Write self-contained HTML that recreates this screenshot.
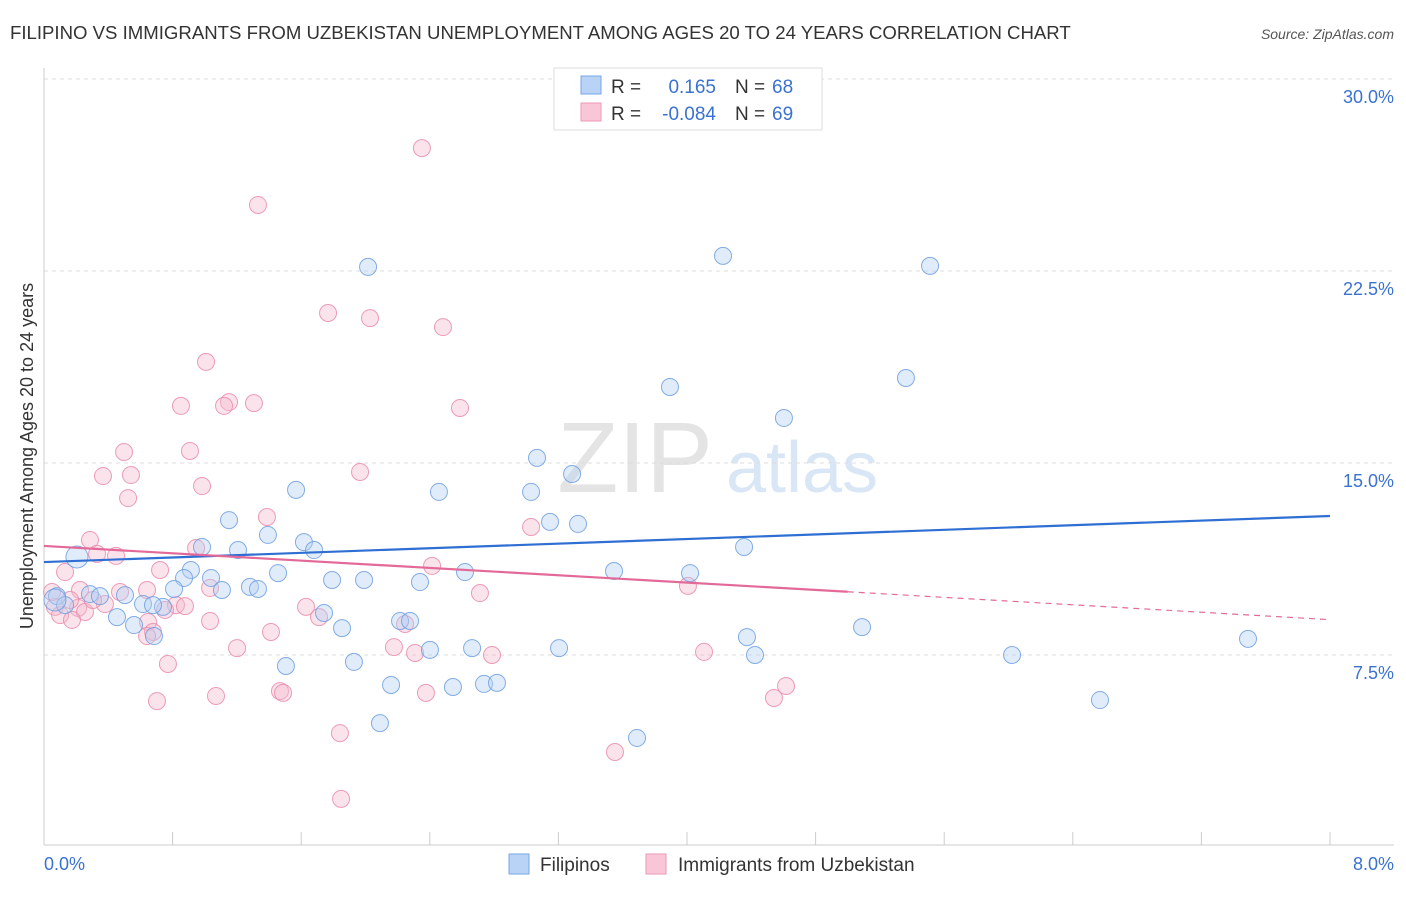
<!DOCTYPE html>
<html><head><meta charset="utf-8"><style>
body{margin:0;background:#fff;font-family:"Liberation Sans",sans-serif;}
svg text{font-family:"Liberation Sans",sans-serif;}
</style></head><body>
<svg id="c" width="1406" height="892" xmlns="http://www.w3.org/2000/svg">
<text x="10" y="39" font-size="18.6" fill="#333">FILIPINO VS IMMIGRANTS FROM UZBEKISTAN UNEMPLOYMENT AMONG AGES 20 TO 24 YEARS CORRELATION CHART</text>
<text x="1394" y="39" font-size="14" fill="#555" font-style="italic" text-anchor="end">Source: ZipAtlas.com</text>
<text x="635" y="492" font-size="100" fill="#e4e4e4" font-family="Liberation Serif" text-anchor="middle">ZIP</text>
<text x="802" y="492" font-size="72" fill="#d9e6f5" text-anchor="middle">atlas</text>
<g id="grid"></g><g id="axes"></g><g id="pts"></g><g id="trend"></g>
<text x="33" y="456" font-size="18" fill="#333" text-anchor="middle" transform="rotate(-90 33 456)">Unemployment Among Ages 20 to 24 years</text>
<text x="44" y="870" font-size="18" fill="#3a72d0">0.0%</text>
<text x="1394" y="870" font-size="18" fill="#3a72d0" text-anchor="end">8.0%</text>
<g>
<rect x="554" y="68" width="268" height="62" fill="#fff" stroke="#ddd"/>
<rect x="581" y="76" width="20" height="18" fill="#b8d3f5" stroke="#7aa6e6"/>
<rect x="581" y="103" width="20" height="18" fill="#f8c6d6" stroke="#ec9ab5"/>
<text x="611" y="93" font-size="19" fill="#333">R =</text><text x="716" y="93" font-size="19" fill="#3a72d0" text-anchor="end">0.165</text>
<text x="735" y="93" font-size="19" fill="#333">N =</text><text x="772" y="93" font-size="19" fill="#3a72d0">68</text>
<text x="611" y="120" font-size="19" fill="#333">R =</text><text x="716" y="120" font-size="19" fill="#3a72d0" text-anchor="end">-0.084</text>
<text x="735" y="120" font-size="19" fill="#333">N =</text><text x="772" y="120" font-size="19" fill="#3a72d0">69</text>
</g>
<g>
<rect x="509" y="854" width="20" height="20" fill="#b8d3f5" stroke="#7aa6e6"/>
<text x="540" y="871" font-size="19" fill="#333">Filipinos</text>
<rect x="646" y="854" width="20" height="20" fill="#f8c6d6" stroke="#ec9ab5"/>
<text x="678" y="871" font-size="19" fill="#333">Immigrants from Uzbekistan</text>
</g>
</svg>
<script>
const yTicks=[7.5,15,22.5,30];
const yTickLabels=["7.5%","15.0%","22.5%","30.0%"];
const xTicks=[0,0.8,1.6,2.4,3.2,4,4.8,5.6,6.4,7.2,8];
const blueX=[2.016,4.224,5.512,5.362,3.894,4.603,3.067,3.285,1.568,2.457,3.030,1.151,3.148,3.322,1.393,1.617,1.680,0.983,1.207,4.355,0.205,0.914,0.871,1.039,1.456,2.619,3.546,4.019,1.792,1.991,2.339,1.281,1.331,1.107,0.809,0.286,0.348,0.504,0.616,0.081,0.131,0.068,0.740,0.678,0.454,0.560,0.684,1.742,1.854,2.215,2.277,5.089,4.373,2.401,2.663,3.204,4.423,6.022,7.490,1.928,1.505,2.159,2.544,2.737,2.818,6.569,2.090,3.689];
const blueY=[22.66,23.09,22.70,18.32,17.97,16.76,15.20,14.57,13.95,13.87,13.87,12.77,12.70,12.62,12.19,11.91,11.60,11.72,11.60,11.72,11.33,10.82,10.51,10.51,10.70,10.74,10.78,10.70,10.43,10.43,10.35,10.16,10.08,10.04,10.08,9.88,9.80,9.84,9.49,9.80,9.45,9.65,9.38,9.45,8.98,8.67,8.24,9.14,8.55,8.83,8.83,8.59,8.20,7.70,7.77,7.77,7.50,7.50,8.13,7.23,7.07,6.33,6.25,6.37,6.41,5.74,4.84,4.26];
const pinkX=[2.351,1.331,1.767,2.028,2.482,1.008,1.151,1.306,1.120,0.852,2.588,0.498,0.908,1.966,0.367,0.541,0.983,0.523,1.387,3.030,0.286,0.946,0.330,0.448,2.414,0.131,0.722,0.224,0.473,0.641,1.033,2.712,4.006,0.379,0.212,0.255,0.821,0.877,0.753,1.630,1.711,1.033,0.647,2.246,0.678,0.641,1.412,1.201,2.177,2.308,2.787,4.106,0.771,0.068,0.050,0.100,0.174,1.468,1.487,1.070,2.376,0.703,4.616,4.541,1.841,3.552,1.848,0.162,0.305];
const pinkY=[27.30,25.08,20.86,20.66,20.31,18.95,17.38,17.34,17.23,17.23,17.15,15.43,15.47,14.65,14.49,14.53,14.10,13.63,12.89,12.50,11.99,11.68,11.45,11.37,10.98,10.74,10.82,10.04,9.96,10.04,10.12,9.92,10.20,9.49,9.34,9.18,9.45,9.41,9.26,9.38,8.98,8.83,8.79,8.71,8.40,8.24,8.40,7.77,7.81,7.58,7.50,7.62,7.15,9.38,9.96,9.06,8.87,6.09,6.02,5.90,6.02,5.70,6.29,5.82,4.45,3.71,1.88,9.65,9.65];
const blueTrend=[11.13,12.93];
const pinkTrend=[11.76,9.97,8.88];
const pinkSolidEnd=5.0;
const X=v=>44+v*160.75, Y=v=>847-v*25.6;
const NS="http://www.w3.org/2000/svg";
function mk(t,a,p){const e=document.createElementNS(NS,t);for(const k in a)e.setAttribute(k,a[k]);document.getElementById(p).appendChild(e);return e;}
yTicks.forEach((t,i)=>{
 const l=mk('line',{x1:44,x2:1394,y1:Y(t),y2:Y(t),stroke:'#ddd','stroke-dasharray':'4,4'},'grid');
 
 
 const tx=mk('text',{x:1394,y:Y(t)+24,'font-size':18,fill:'#3a72d0','text-anchor':'end'},'grid');
 tx.textContent=yTickLabels[i];
 
 
});
const ax=mk('line',{x1:44,x2:1394,y1:845,y2:845,stroke:'#ccc'},'axes');


const ay=mk('line',{x1:44,x2:44,y1:68,y2:845,stroke:'#ccc'},'axes');


xTicks.forEach(t=>{
 const l=mk('line',{x1:X(t),x2:X(t),y1:832,y2:845,stroke:'#ccc'},'axes');
 
 
});
function pts(xs,ys,fill,stroke,name,big){
 xs.forEach((x,i)=>{
  const r=big.includes(i)?11:8.5;
  const c=mk('circle',{cx:X(x),cy:Y(ys[i]),r:r,fill:fill,'fill-opacity':0.4,stroke:stroke,'stroke-width':1,'stroke-opacity':0.85},'pts');
  
  
 });
}
pts(pinkX,pinkY,'#f6b9cd','#e98cab','uzbekistan-point',[]);
pts(blueX,blueY,'#b3cff2','#6f9fe0','filipino-point',[20,41]);
const bt=mk('line',{x1:X(0),y1:Y(blueTrend[0]),x2:X(8),y2:Y(blueTrend[1]),stroke:'#2f6fd3','stroke-width':2.2},'trend');


const pt=mk('line',{x1:X(0),y1:Y(pinkTrend[0]),x2:X(pinkSolidEnd),y2:Y(pinkTrend[1]),stroke:'#e36a98','stroke-width':2.2},'trend');


const pd=mk('line',{x1:X(pinkSolidEnd),y1:Y(pinkTrend[1]),x2:X(8),y2:Y(pinkTrend[2]),stroke:'#e36a98','stroke-width':1.2,'stroke-dasharray':'6,5'},'trend');


</script>
</body></html>
